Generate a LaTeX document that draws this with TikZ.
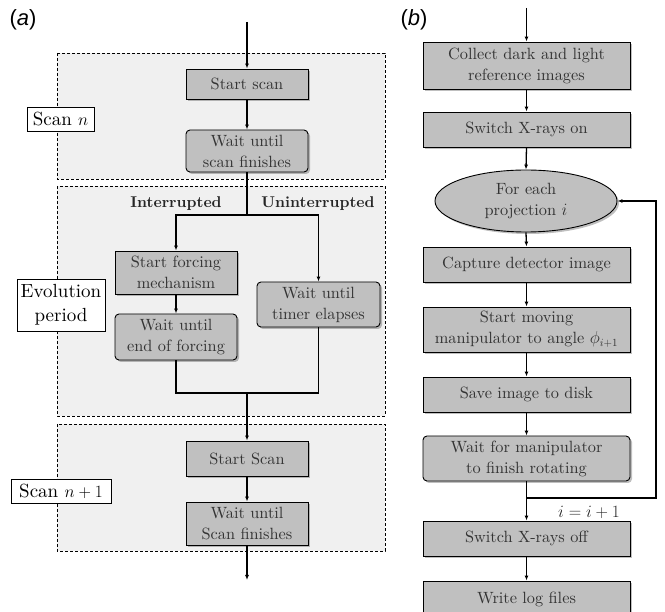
\documentclass[tikz,border=0pt]{standalone}
\usepackage{fontspec}
\setmainfont{lmroman10}[Extension=.otf, UprightFont=*-regular, BoldFont=*-bold, ItalicFont=*-italic, BoldItalicFont=*-bolditalic]
\newfontfamily\panelfont{Liberation Sans}
\usetikzlibrary{shadows,shapes.geometric,arrows.meta}
\definecolor{boxgray}{HTML}{C0C0C0}
\definecolor{regiongray}{HTML}{F0F0F0}
\tikzset{
  boxsq/.style={draw=black, line width=0.9pt, fill=boxgray, inner sep=0pt, align=center,
    text=black!80, font=\fontsize{16.3}{21}\selectfont,
    drop shadow={shadow xshift=2pt, shadow yshift=-2pt, fill=black, opacity=0.25}},
  boxrd/.style={boxsq, rounded corners=4pt},
  region/.style={draw=black, dashed, dash pattern=on 3pt off 2pt, line width=0.8pt, fill=regiongray},
  lbl/.style={draw=black, line width=0.9pt, fill=white, align=center, inner sep=1pt,
    font=\fontsize{19}{24}\selectfont},
  arr/.style={-{Latex[length=5pt,width=4pt]}, line width=1.3pt},
  thickln/.style={line width=1.6pt},
  branch/.style={font=\fontsize{15.6}{19}\selectfont\bfseries, text=black!85},
  panel/.style={font=\panelfont\fontsize{22}{26}\selectfont},
}
\begin{document}
\begin{tikzpicture}[x=1pt,y=-1pt]
\useasboundingbox (0,0) rectangle (665,612);
\clip (0,0) rectangle (665,612);
% ---------- panel (a)
\node[panel] (pa) at (23,20) {(\textit{a})};
\draw[region] (57,53) rectangle (385,179);
\draw[region] (57,186) rectangle (385,416);
\draw[region] (57,424) rectangle (385,551);

\node[boxsq, minimum width=122pt, minimum height=30pt] (s1) at (247,84) {Start scan};
\node[boxrd, minimum width=122pt, minimum height=42pt] (w1) at (247,151) {Wait until\\scan finishes};
\node[boxsq, minimum width=122pt, minimum height=43pt] (f1) at (176,272.5) {Start forcing\\mechanism};
\node[boxrd, minimum width=122pt, minimum height=46pt] (f2) at (176,337) {Wait until\\end of forcing};
\node[boxrd, minimum width=123pt, minimum height=45pt] (t1) at (318.5,304.5) {Wait until\\timer elapses};
\node[boxsq, minimum width=122pt, minimum height=35pt] (s2) at (247,458.5) {Start Scan};
\node[boxsq, minimum width=122pt, minimum height=43pt] (w2) at (247,523.5) {Wait until\\Scan finishes};

\node[branch] (int) at (176,204) {Interrupted};
\node[branch] (unint) at (318,204) {Uninterrupted};

\node[lbl, minimum width=67pt, minimum height=24pt] (ln) at (60.5,119) {Scan $n$};
\node[lbl, minimum width=88pt, minimum height=52pt] (lev) at (61,305) {Evolution\\period};
\node[lbl, minimum width=100pt, minimum height=24pt] (ln1) at (61,491) {Scan $n+1$};

\coordinate (atop) at (247,22);
\coordinate (j1) at (247,215);
\coordinate (m1) at (247,393);
\coordinate (abot) at (247,580);
\draw[arr, thickln] (atop) -- (s1.north);
\draw[arr, thickln] (s1.south) -- (w1.north);
\draw[thickln] (w1.south) -- (j1);
\draw[arr, thickln] (j1) -| (f1.north);
\draw[arr, thickln] (j1) -| (t1.north);
\draw[arr, thickln] (f1.south) -- (f2.north);
\draw[thickln] (f2.south) |- (m1);
\draw[thickln] (t1.south) |- (m1);
\draw[arr, thickln] (m1) -- (s2.north);
\draw[arr, thickln] (s2.south) -- (w2.north);
\draw[arr, thickln] (w2.south) -- (abot);

% ---------- panel (b)
\node[panel] (pb) at (414,20) {(\textit{b})};
\node[boxsq, minimum width=207pt, minimum height=47pt] (b1) at (526.5,65.5) {Collect dark and light\\reference images};
\node[boxsq, minimum width=207pt, minimum height=35pt] (b2) at (526.5,129.5) {Switch X-rays on};
\node[boxsq, ellipse, minimum width=182pt, minimum height=62pt] (b3) at (526,201) {For each\\projection $i$};
\node[boxsq, minimum width=207pt, minimum height=35pt] (b4) at (526.5,264.5) {Capture detector image};
\node[boxsq, minimum width=207pt, minimum height=45pt] (b5) at (526.5,329.5) {Start moving\\manipulator to angle $\phi_{i+1}$};
\node[boxsq, minimum width=207pt, minimum height=35pt] (b6) at (526.5,394.5) {Save image to disk};
\node[boxrd, minimum width=207pt, minimum height=45pt] (b7) at (526.5,458.5) {Wait for manipulator\\to finish rotating};
\node[boxsq, minimum width=207pt, minimum height=35pt] (b8) at (526.5,538.5) {Switch X-rays off};
\node[boxsq, minimum width=207pt, minimum height=36pt] (b9) at (526.5,599) {Write log files};
\node[font=\fontsize{16.5}{20}\selectfont, text=black!85] (inc) at (589,512) {$i=i+1$};

\coordinate (btop) at (526.5,8);
\coordinate (lp1) at (526.5,498);
\coordinate (lp2) at (656,498);
\draw[arr] (btop) -- (b1.north);
\draw[arr] (b1.south) -- (b2.north);
\draw[arr] (b2.south) -- (b3.north);
\draw[arr] (b3.south) -- (b4.north);
\draw[arr] (b4.south) -- (b5.north);
\draw[arr] (b5.south) -- (b6.north);
\draw[arr] (b6.south) -- (b7.north);
\draw[arr] (b7.south) -- (b8.north);
\draw[arr] (b8.south) -- (b9.north);
\draw[arr] (lp1) -- (lp2) |- (b3.east);
\end{tikzpicture}
\end{document}
